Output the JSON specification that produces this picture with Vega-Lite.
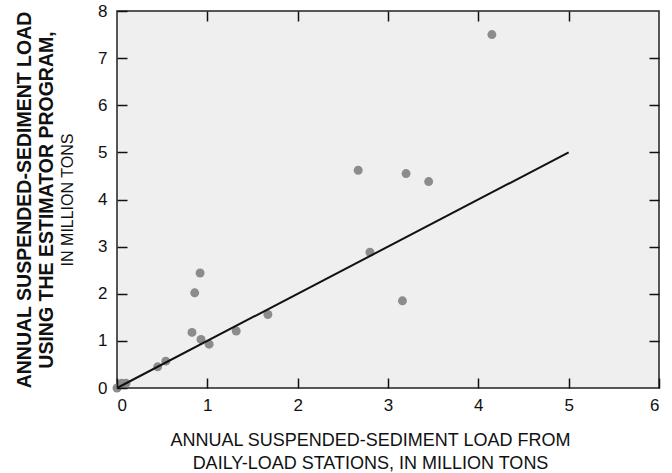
{
  "$schema": "https://vega.github.io/schema/vega-lite/v6.json",
  "width": 542,
  "height": 377,
  "autosize": "none",
  "padding": {"left": 117, "top": 11, "right": 13, "bottom": 85},
  "background": "white",
  "config": {
    "view": {"fill": "#efefef", "stroke": "#222222", "strokeWidth": 1.5},
    "axis": {
      "grid": false,
      "domain": false,
      "labelFont": "Liberation Sans",
      "labelFontSize": 17,
      "labelColor": "#111111",
      "titleFont": "Liberation Sans",
      "titleColor": "#111111"
    }
  },
  "datasets": {
    "pts": [
      {"daily": 0.0, "estimator": 0.0},
      {"daily": 0.05, "estimator": 0.1},
      {"daily": 0.1, "estimator": 0.1},
      {"daily": 0.45, "estimator": 0.45},
      {"daily": 0.54, "estimator": 0.57},
      {"daily": 0.83, "estimator": 1.18},
      {"daily": 0.86, "estimator": 2.02},
      {"daily": 0.92, "estimator": 2.44},
      {"daily": 0.93, "estimator": 1.03},
      {"daily": 1.02, "estimator": 0.93},
      {"daily": 1.32, "estimator": 1.21},
      {"daily": 1.67, "estimator": 1.56},
      {"daily": 2.67, "estimator": 4.62},
      {"daily": 2.8, "estimator": 2.88},
      {"daily": 3.16, "estimator": 1.85},
      {"daily": 3.2, "estimator": 4.55},
      {"daily": 3.45, "estimator": 4.38},
      {"daily": 4.15, "estimator": 7.5}
    ],
    "fit": [
      {"daily": 0, "estimator": 0},
      {"daily": 5, "estimator": 5}
    ]
  },
  "layer": [
    {
      "data": {"name": "pts"},
      "mark": {"type": "point", "filled": true, "shape": "circle", "size": 80, "color": "#8c8c8c", "opacity": 1},
      "encoding": {
        "x": {
          "field": "daily", "type": "quantitative",
          "scale": {"domain": [0, 6], "nice": false, "zero": true},
          "axis": {
            "orient": "bottom", "values": [0, 1, 2, 3, 4, 5, 6], "zindex": 1,
            "offset": -10, "ticks": true, "tickSize": 10, "tickColor": "#111111", "tickWidth": 1.5,
            "labelPadding": 9,
            "title": ["ANNUAL SUSPENDED-SEDIMENT LOAD FROM", "DAILY-LOAD STATIONS, IN MILLION TONS"],
            "titleFontSize": 18, "titleFontWeight": "normal",
            "titleLineHeight": 23.5, "titleX": 253, "titleY": 67, "titleBaseline": "alphabetic"
          }
        },
        "y": {
          "field": "estimator", "type": "quantitative",
          "scale": {"domain": [0, 8], "nice": false},
          "axis": {
            "orient": "left", "values": [0, 1, 2, 3, 4, 5, 6, 7, 8], "zindex": 1,
            "offset": -10, "ticks": true, "tickSize": 10, "tickColor": "#111111", "tickWidth": 1.5,
            "labelPadding": 10,
            "title": ["ANNUAL SUSPENDED-SEDIMENT LOAD", "USING THE ESTIMATOR PROGRAM,"],
            "titleFontSize": 19.5, "titleFontWeight": "bold",
            "titleLineHeight": 21.5, "titleX": -96.5, "titleBaseline": "alphabetic"
          }
        }
      }
    },
    {
      "data": {"name": "fit"},
      "mark": {"type": "line", "color": "#111111", "strokeWidth": 2},
      "encoding": {
        "x": {
          "field": "daily", "type": "quantitative",
          "axis": {"orient": "top", "values": [1, 2, 3, 4, 5], "labels": false, "title": null, "zindex": 1,
                   "offset": -10, "ticks": true, "tickSize": 10, "tickColor": "#111111", "tickWidth": 1.5}
        },
        "y": {
          "field": "estimator", "type": "quantitative",
          "axis": {"orient": "right", "values": [1, 2, 3, 4, 5, 6, 7], "labels": false, "title": null, "zindex": 1,
                   "offset": -10, "ticks": true, "tickSize": 10, "tickColor": "#111111", "tickWidth": 1.5}
        }
      }
    },
    {
      "data": {"name": "fit"},
      "mark": {"type": "line", "strokeOpacity": 0},
      "encoding": {
        "x": {"field": "daily", "type": "quantitative", "axis": null},
        "y": {
          "field": "estimator", "type": "quantitative",
          "axis": {
            "orient": "left", "offset": 0, "labels": false, "ticks": false, "domain": false, "zindex": 1,
            "title": "IN MILLION TONS", "titleFontSize": 16, "titleFontWeight": "normal",
            "titleX": -45, "titleBaseline": "alphabetic"
          }
        }
      }
    }
  ],
  "resolve": {"axis": {"x": "independent", "y": "independent"}}
}
